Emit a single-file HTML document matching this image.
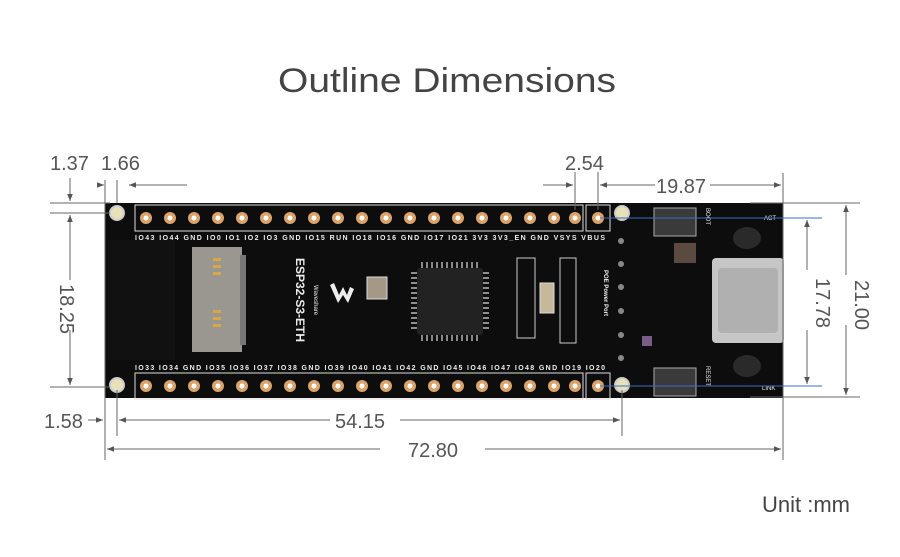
<!DOCTYPE html>
<html><head><meta charset="utf-8"><style>
html,body{margin:0;padding:0;background:#fff;}
svg{display:block;font-family:"Liberation Sans",sans-serif;}
</style></head><body>
<svg width="900" height="557" viewBox="0 0 900 557" xmlns="http://www.w3.org/2000/svg">
<defs>
<marker id="a" viewBox="0 0 10 10" refX="10" refY="5" markerWidth="7" markerHeight="7" orient="auto-start-reverse"><path d="M0,1 L10,5 L0,9 z" fill="#555"/></marker>
</defs>
<rect width="900" height="557" fill="#fff"/>
<text x="447" y="92" font-size="34" fill="#444" text-anchor="middle" textLength="338" lengthAdjust="spacingAndGlyphs">Outline Dimensions</text>
<text x="806" y="512" font-size="22" fill="#444" text-anchor="middle">Unit :mm</text>

<!-- board -->
<rect x="105" y="203" width="678" height="195" fill="#0d0d0d"/>
<rect x="105" y="240" width="70" height="120" fill="#111"/>
<!-- pin header outlines -->
<rect x="135" y="205" width="448" height="26" fill="none" stroke="#ddd" stroke-width="1"/>
<rect x="586" y="205" width="24" height="26" fill="none" stroke="#ddd" stroke-width="1"/>
<rect x="135" y="373" width="448" height="26" fill="none" stroke="#ddd" stroke-width="1"/>
<rect x="586" y="373" width="24" height="26" fill="none" stroke="#ddd" stroke-width="1"/>
<g fill="#d9a36a">
<circle cx="146" cy="218" r="6"/><circle cx="170" cy="218" r="6"/><circle cx="194" cy="218" r="6"/><circle cx="218" cy="218" r="6"/><circle cx="242" cy="218" r="6"/><circle cx="266" cy="218" r="6"/><circle cx="290" cy="218" r="6"/><circle cx="314" cy="218" r="6"/><circle cx="338" cy="218" r="6"/><circle cx="362" cy="218" r="6"/><circle cx="386" cy="218" r="6"/><circle cx="410" cy="218" r="6"/><circle cx="434" cy="218" r="6"/><circle cx="458" cy="218" r="6"/><circle cx="482" cy="218" r="6"/><circle cx="506" cy="218" r="6"/><circle cx="530" cy="218" r="6"/><circle cx="554" cy="218" r="6"/><circle cx="575" cy="218" r="6"/><circle cx="598" cy="218" r="6"/>
<circle cx="146" cy="386" r="6"/><circle cx="170" cy="386" r="6"/><circle cx="194" cy="386" r="6"/><circle cx="218" cy="386" r="6"/><circle cx="242" cy="386" r="6"/><circle cx="266" cy="386" r="6"/><circle cx="290" cy="386" r="6"/><circle cx="314" cy="386" r="6"/><circle cx="338" cy="386" r="6"/><circle cx="362" cy="386" r="6"/><circle cx="386" cy="386" r="6"/><circle cx="410" cy="386" r="6"/><circle cx="434" cy="386" r="6"/><circle cx="458" cy="386" r="6"/><circle cx="482" cy="386" r="6"/><circle cx="506" cy="386" r="6"/><circle cx="530" cy="386" r="6"/><circle cx="554" cy="386" r="6"/><circle cx="575" cy="386" r="6"/><circle cx="598" cy="386" r="6"/>
</g>
<g fill="#fff">
<circle cx="146" cy="218" r="2.5"/><circle cx="170" cy="218" r="2.5"/><circle cx="194" cy="218" r="2.5"/><circle cx="218" cy="218" r="2.5"/><circle cx="242" cy="218" r="2.5"/><circle cx="266" cy="218" r="2.5"/><circle cx="290" cy="218" r="2.5"/><circle cx="314" cy="218" r="2.5"/><circle cx="338" cy="218" r="2.5"/><circle cx="362" cy="218" r="2.5"/><circle cx="386" cy="218" r="2.5"/><circle cx="410" cy="218" r="2.5"/><circle cx="434" cy="218" r="2.5"/><circle cx="458" cy="218" r="2.5"/><circle cx="482" cy="218" r="2.5"/><circle cx="506" cy="218" r="2.5"/><circle cx="530" cy="218" r="2.5"/><circle cx="554" cy="218" r="2.5"/><circle cx="575" cy="218" r="2.5"/><circle cx="598" cy="218" r="2.5"/>
<circle cx="146" cy="386" r="2.5"/><circle cx="170" cy="386" r="2.5"/><circle cx="194" cy="386" r="2.5"/><circle cx="218" cy="386" r="2.5"/><circle cx="242" cy="386" r="2.5"/><circle cx="266" cy="386" r="2.5"/><circle cx="290" cy="386" r="2.5"/><circle cx="314" cy="386" r="2.5"/><circle cx="338" cy="386" r="2.5"/><circle cx="362" cy="386" r="2.5"/><circle cx="386" cy="386" r="2.5"/><circle cx="410" cy="386" r="2.5"/><circle cx="434" cy="386" r="2.5"/><circle cx="458" cy="386" r="2.5"/><circle cx="482" cy="386" r="2.5"/><circle cx="506" cy="386" r="2.5"/><circle cx="530" cy="386" r="2.5"/><circle cx="554" cy="386" r="2.5"/><circle cx="575" cy="386" r="2.5"/><circle cx="598" cy="386" r="2.5"/>
</g>
<!-- mounting holes -->
<g fill="#e8e0b8" stroke="#ccc" stroke-width="2">
<circle cx="117" cy="213" r="7"/><circle cx="117" cy="385" r="7"/><circle cx="622" cy="213" r="7"/><circle cx="622" cy="385" r="7"/>
</g>
<!-- pin labels -->
<g font-size="7" fill="#eee" font-weight="bold">
<text x="135" y="240" textLength="470" lengthAdjust="spacing">IO43 IO44 GND IO0 IO1 IO2 IO3 GND IO15 RUN IO18 IO16 GND IO17 IO21 3V3 3V3_EN GND VSYS VBUS</text>
<text x="135" y="370" textLength="470" lengthAdjust="spacing">IO33 IO34 GND IO35 IO36 IO37 IO38 GND IO39 IO40 IO41 IO42 GND IO45 IO46 IO47 IO48 GND IO19 IO20</text>
</g>
<!-- SD card -->
<rect x="192" y="247" width="50" height="105" fill="#9a9690"/>
<rect x="240" y="255" width="6" height="90" fill="#777"/>
<g fill="#d9a64a"><rect x="213" y="258" width="8" height="3"/><rect x="213" y="265" width="8" height="3"/><rect x="213" y="272" width="8" height="3"/><rect x="213" y="310" width="8" height="3"/><rect x="213" y="317" width="8" height="3"/><rect x="213" y="324" width="8" height="3"/></g>
<!-- text ESP32 -->
<text transform="translate(296,258) rotate(90)" font-size="12" font-weight="bold" fill="#eee">ESP32-S3-ETH</text>
<text transform="translate(314,285) rotate(90)" font-size="6" fill="#eee">Waveshare</text>
<path d="M330,285 l8,18 l5,-8 l5,8 l6,-14 l-4,-2 l-3,8 l-4,-8 l-4,8 l-5,-12 z" fill="#eee"/>
<rect x="367" y="277" width="20" height="22" fill="#a59887" stroke="#ddd"/>
<!-- chip -->
<rect x="417" y="268" width="66" height="67" fill="#222" rx="3"/>
<g stroke="#ddd" stroke-width="1.2">
<path d="M422,262 v6 M427,262 v6 M432,262 v6 M437,262 v6 M442,262 v6 M447,262 v6 M452,262 v6 M457,262 v6 M462,262 v6 M467,262 v6 M472,262 v6 M477,262 v6"/>
<path d="M422,335 v6 M427,335 v6 M432,335 v6 M437,335 v6 M442,335 v6 M447,335 v6 M452,335 v6 M457,335 v6 M462,335 v6 M467,335 v6 M472,335 v6 M477,335 v6"/>
<path d="M411,273 h6 M411,278 h6 M411,283 h6 M411,288 h6 M411,293 h6 M411,298 h6 M411,303 h6 M411,308 h6 M411,313 h6 M411,318 h6 M411,323 h6 M411,328 h6"/>
<path d="M483,273 h6 M483,278 h6 M483,283 h6 M483,288 h6 M483,293 h6 M483,298 h6 M483,303 h6 M483,308 h6 M483,313 h6 M483,318 h6 M483,323 h6 M483,328 h6"/>
</g>
<rect x="540" y="283" width="14" height="30" fill="#c7b89b" stroke="#ddd"/>
<g fill="none" stroke="#ccc"><rect x="517" y="258" width="18" height="80"/><rect x="560" y="258" width="16" height="85"/></g>
<!-- right side components -->
<rect x="654" y="208" width="42" height="28" fill="#3a3a3a" stroke="#aaa"/>
<rect x="654" y="368" width="42" height="28" fill="#3a3a3a" stroke="#aaa"/>
<rect x="674" y="243" width="22" height="20" fill="#5a4a40"/>
<rect x="712" y="258" width="72" height="85" fill="#c6c6c6" rx="4"/>
<rect x="718" y="268" width="60" height="65" fill="#b0b0b0" rx="4"/>
<ellipse cx="747" cy="238" rx="14" ry="11" fill="#2a2a2a"/>
<ellipse cx="747" cy="366" rx="14" ry="11" fill="#2a2a2a"/>
<g fill="#888"><circle cx="621" cy="241" r="3"/><circle cx="621" cy="264" r="3"/><circle cx="621" cy="287" r="3"/><circle cx="621" cy="311" r="3"/><circle cx="621" cy="335" r="3"/><circle cx="621" cy="358" r="3"/></g>
<text transform="translate(604,270) rotate(90)" font-size="6" fill="#eee" font-weight="bold">POE Power Port</text>
<text transform="translate(706,208) rotate(90)" font-size="6" fill="#eee">BOOT</text>
<text transform="translate(706,366) rotate(90)" font-size="6" fill="#eee">RESET</text>
<text x="764" y="220" font-size="6" fill="#eee">ACT</text>
<text x="762" y="390" font-size="6" fill="#eee">LINK</text>
<rect x="642" y="336" width="10" height="10" fill="#7b5b8a"/>

<!-- blue lines -->
<line x1="600" y1="218" x2="822" y2="218" stroke="#3b6fc4" stroke-width="1"/>
<line x1="600" y1="386" x2="822" y2="386" stroke="#3b6fc4" stroke-width="1"/>

<!-- dimension lines -->
<g stroke="#666" stroke-width="1" fill="none">
<line x1="50" y1="203" x2="110" y2="203"/>
<line x1="50" y1="213" x2="110" y2="213"/>
<line x1="50" y1="387" x2="110" y2="387"/>
<line x1="70" y1="178" x2="70" y2="201" marker-end="url(#a)"/>
<line x1="70" y1="280" x2="70" y2="215" marker-end="url(#a)"/>
<line x1="70" y1="330" x2="70" y2="385" marker-end="url(#a)"/>
<line x1="105" y1="180" x2="105" y2="460"/>
<line x1="117" y1="180" x2="117" y2="203"/>
<line x1="117" y1="390" x2="117" y2="436"/>
<line x1="98" y1="185" x2="104" y2="185" marker-end="url(#a)"/>
<line x1="187" y1="185" x2="129" y2="185" marker-end="url(#a)"/>
<line x1="88" y1="420" x2="103" y2="420" marker-end="url(#a)"/>
<line x1="330" y1="420" x2="119" y2="420" marker-end="url(#a)"/>
<line x1="400" y1="420" x2="620" y2="420" marker-end="url(#a)"/>
<line x1="622" y1="390" x2="622" y2="436"/>
<line x1="380" y1="449" x2="107" y2="449" marker-end="url(#a)"/>
<line x1="485" y1="449" x2="781" y2="449" marker-end="url(#a)"/>
<line x1="783" y1="173" x2="783" y2="460"/>
<line x1="575" y1="172" x2="575" y2="210"/>
<line x1="598" y1="172" x2="598" y2="210"/>
<line x1="543" y1="185" x2="573" y2="185" marker-end="url(#a)"/>
<line x1="655" y1="185" x2="600" y2="185" marker-end="url(#a)"/>
<line x1="710" y1="185" x2="781" y2="185" marker-end="url(#a)"/>
<line x1="750" y1="203" x2="860" y2="203"/>
<line x1="750" y1="397" x2="860" y2="397"/>
<line x1="846" y1="275" x2="846" y2="205" marker-end="url(#a)"/>
<line x1="846" y1="325" x2="846" y2="395" marker-end="url(#a)"/>
<line x1="807" y1="270" x2="807" y2="220" marker-end="url(#a)"/>
<line x1="807" y1="330" x2="807" y2="384" marker-end="url(#a)"/>
</g>
<g font-size="20" fill="#555">
<text x="50" y="170">1.37</text>
<text x="101" y="170">1.66</text>
<text x="565" y="170">2.54</text>
<text x="656" y="193">19.87</text>
<text x="44" y="428">1.58</text>
<text x="335" y="428">54.15</text>
<text x="408" y="457">72.80</text>
<text transform="translate(60,284) rotate(90)">18.25</text>
<text transform="translate(816,278) rotate(90)">17.78</text>
<text transform="translate(855,280) rotate(90)">21.00</text>
</g>
</svg>
</body></html>
